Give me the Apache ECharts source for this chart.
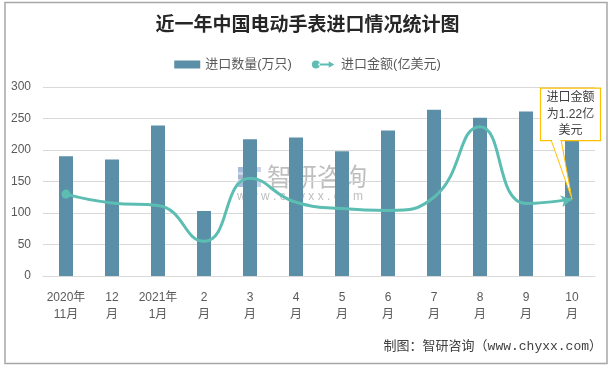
<!DOCTYPE html>
<html>
<head>
<meta charset="utf-8">
<script src="https://cdn.jsdelivr.net/npm/echarts@6/dist/echarts.min.js"></script>
<style>html,body{margin:0;padding:0;background:#fff}#c{width:615px;height:367px}</style>
</head>
<body>
<div id="c"></div>
<script>
var categories = ['2020年\n11月','12\n月','2021年\n1月','2\n月','3\n月','4\n月','5\n月','6\n月','7\n月','8\n月','9\n月','10\n月'];
var quantity = [190, 185, 239, 103, 217, 220, 198, 231, 264, 251, 261, 218];
var amount = [1.30, 1.16, 1.12, 0.55, 1.55, 1.17, 1.07, 1.04, 1.25, 2.37, 1.15, 1.22];
var yTicks = [0, 50, 100, 150, 200, 250, 300];

var FONT = 'Liberation Sans, Noto Sans CJK SC, sans-serif';
var BAR = '#5B8FA7';
var LINE = '#5CBDB3';

var lineData = amount.map(function (v, i) {
  if (i === 0) return { value: v, symbol: 'circle', symbolSize: 9 };
  if (i === amount.length - 1) return { value: v, symbol: 'arrow', symbolSize: [9, 11], symbolRotate: -78 };
  return { value: v, symbol: 'none' };
});

var chart = echarts.init(document.getElementById('c'), null, { renderer: 'canvas' });
chart.setOption({
  animation: false,
  backgroundColor: '#fff',
  title: {
    text: '近一年中国电动手表进口情况统计图',
    left: 'center', top: 9,
    textStyle: { fontFamily: 'Noto Sans CJK SC', fontSize: 19, fontWeight: 'bold', color: '#262626' }
  },
  legend: {
    top: 53, left: 'center',
    itemWidth: 26, itemHeight: 8, itemGap: 20,
    textStyle: { fontFamily: FONT, fontSize: 13, color: '#595959' },
    data: [
      { name: '进口数量(万只)', icon: 'rect' },
      { name: '进口金额(亿美元)', icon: 'path://M0,5a5,5 0 1,0 10,0a5,5 0 1,0 -10,0Z M8,3.6H22V6.4H8Z M21,1L28,5L21,9Z' }
    ]
  },
  grid: { left: 43, right: 20, top: 87, bottom: 91 },
  xAxis: {
    type: 'category', data: categories, boundaryGap: true,
    axisLine: { lineStyle: { color: '#D9D9D9' } },
    axisTick: { show: false },
    axisLabel: { fontFamily: FONT, fontSize: 12, color: '#595959', lineHeight: 17, margin: 13, interval: 0 }
  },
  yAxis: [{
    type: 'value', min: yTicks[0], max: yTicks[yTicks.length - 1], interval: yTicks[1] - yTicks[0],
    axisLine: { show: false }, axisTick: { show: false },
    splitLine: { lineStyle: { color: '#D9D9D9' } },
    axisLabel: { fontFamily: FONT, fontSize: 12, color: '#595959', margin: 12 }
  }, {
    type: 'value', min: 0, max: 3, show: false, splitLine: { show: false }
  }],
  series: [{
    name: '进口数量(万只)', type: 'bar', data: quantity, barWidth: 14,
    itemStyle: { color: BAR }, z: 2
  }, {
    name: '进口金额(亿美元)', type: 'line', yAxisIndex: 1, data: lineData,
    smooth: 0.5, symbol: 'none', showSymbol: true,
    lineStyle: { color: LINE, width: 3 }, itemStyle: { color: LINE }, z: 3
  }],
  graphic: [
    { id: 'frame', type: 'rect', z: -10, shape: { x: 5, y: 2.5, width: 602, height: 361 },
      style: { fill: 'none', stroke: '#A6A6A6', lineWidth: 1.5 }, silent: true },
    { id: 'wm1', type: 'rect', z: 0, shape: { x: 238, y: 167, width: 23, height: 5 }, style: { fill: 'rgba(120,150,200,0.40)' } },
    { id: 'wm2', type: 'rect', z: 0, shape: { x: 238, y: 175, width: 14, height: 4 }, style: { fill: 'rgba(120,120,140,0.40)' } },
    { id: 'wm3', type: 'rect', z: 0, shape: { x: 238, y: 182, width: 23, height: 5 }, style: { fill: 'rgba(120,150,200,0.40)' } },
    { id: 'wm4', type: 'rect', z: 0, shape: { x: 238, y: 167, width: 5, height: 20 }, style: { fill: 'rgba(120,150,200,0.40)' } },
    { id: 'wmt', type: 'text', z: 0, style: { text: '智研咨询', x: 267, y: 164, fontFamily: 'Noto Sans CJK SC', fontSize: 25, fill: 'rgba(110,110,110,0.45)' } },
    { id: 'wmu', type: 'text', z: 0, style: { text: 'w w w . c h y x x . c o m', x: 237, y: 191, fontFamily: FONT, fontSize: 12, fill: 'rgba(110,110,110,0.45)' } },
    { id: 'footer', type: 'text', z: 10, style: { text: '制图：智研咨询（www.chyxx.com）', x: 602, y: 347, align: 'right', verticalAlign: 'middle',
      fontFamily: 'Liberation Mono, Noto Sans CJK SC', fontSize: 13, fill: '#404040' } }
  ]
});

var p = chart.convertToPixel({ xAxisIndex: 0, yAxisIndex: 1 }, [amount.length - 1, amount[amount.length - 1]]);
var bx = p[0] - 31.5, by = p[1] - 111, bw = 60, bh = 52.5;
chart.setOption({
  graphic: [
    { id: 'ptr', type: 'polygon', z: 20, shape: { points: [[p[0] - 21, by + bh - 1], [p[0] - 11, by + bh - 1], [p[0], p[1]]] },
      style: { fill: '#fff', stroke: '#FFC000', lineWidth: 1 } },
    { id: 'box', type: 'rect', z: 21, shape: { x: bx, y: by, width: bw, height: bh },
      style: { fill: '#fff', stroke: '#FFC000', lineWidth: 1.2 } },
    { id: 'ptrfill', type: 'polygon', z: 22, shape: { points: [[p[0] - 20.3, by + bh - 1.5], [p[0] - 11.6, by + bh - 1.5], [p[0] - 11.3, by + bh + 1.5], [p[0] - 19.6, by + bh + 1.5]] },
      style: { fill: '#fff' } },
    { id: 'boxt', type: 'text', z: 23, style: { text: '进口金额\n为1.22亿\n美元', x: bx + bw / 2, y: by + bh / 2, align: 'center', verticalAlign: 'middle',
      fontFamily: FONT, fontSize: 12, lineHeight: 16.5, fill: '#404040' } }
  ]
});
</script>
</body>
</html>
